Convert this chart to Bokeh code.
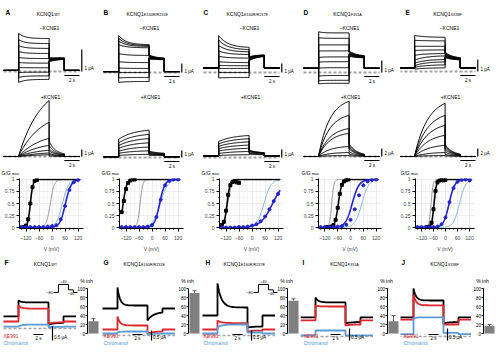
import numpy as np
from bokeh.plotting import figure
from bokeh.layouts import row, column
from bokeh.models import Range1d, Label, FixedTicker
from bokeh.embed import file_html
from bokeh.resources import INLINE

# ======================= DATA =======================
letters_top = ["A", "B", "C", "D", "E"]
letters_bottom = ["F", "G", "H", "I", "J"]
mutant_sub = ["WT", "E160R/R231E", "E160R/R237E", "F351A", "S338F"]

# protocol times (s): start, step on, step off, tail off, end
protocol_top = [0.0, 2.0, 6.0, 8.0, 10.0]
protocol_bottom = [0.0, 3.0, 9.0, 12.0, 14.5]
inset_voltages = [-80, 40, -40, -80]  # mV
inset_labels = ["\u221280", "+40", "\u221240"]

# ---- row 1: KCNQ1 alone (-KCNE1), currents in uA ----
noE_hold = [0.05, 0.1, 0.5, 0.35, 0.3]
noE_tau = [0.8, 1.0, 1.2, 0.5, 1.5]
noE_step_start = [
    [1.73, 1.45, 1.18, 0.91, 0.64, 0.41, 0.18, -0.05, -0.27, -0.50],
    [4.1, 3.8, 3.5, 3.1, 2.1, 1.2, 0.5, 0.0, -0.6, -1.1],
    [4.1, 3.6, 3.0, 2.4, 1.8, 1.2, 0.8, 0.45, 0.0, -0.6],
    [3.4, 2.9, 2.3, 1.8, 1.25, 0.85, 0.35, -0.3, -0.7, -0.95],
    [3.0, 2.6, 2.1, 1.75, 1.35, 0.95, 0.7, 0.5, 0.35, 0.2],
]
noE_step_end = [
    [1.50, 1.27, 1.05, 0.82, 0.59, 0.38, 0.17, -0.03, -0.20, -0.36],
    [3.1, 3.0, 2.9, 2.75, 1.9, 1.1, 0.45, 0.0, -0.55, -1.0],
    [2.8, 2.55, 2.3, 2.0, 1.6, 1.1, 0.75, 0.45, 0.0, -0.55],
    [3.3, 2.85, 2.3, 1.8, 1.3, 0.9, 0.4, -0.25, -0.65, -0.9],
    [2.85, 2.55, 2.1, 1.8, 1.5, 1.3, 1.0, 0.8, 0.55, 0.3],
]
noE_tail_start = [
    [0.62, 0.60, 0.58, 0.56, 0.54, 0.52, 0.50, 0.48, 0.46, 0.44],
    [1.95, 1.9, 1.85, 1.8, 1.75, 1.7, 1.65, 1.6, 1.55, 1.5],
    [1.75, 1.7, 1.65, 1.6, 1.55, 1.5, 1.45, 1.4, 1.35, 1.3],
    [1.8, 1.75, 1.7, 1.65, 1.6, 1.55, 1.5, 1.45, 1.4, 1.35],
    [1.6, 1.55, 1.5, 1.45, 1.4, 1.35, 1.3, 1.25, 1.2, 1.15],
]
noE_tail_end = [
    [0.62, 0.61, 0.60, 0.60, 0.59, 0.58, 0.58, 0.57, 0.56, 0.55],
    [1.6, 1.58, 1.56, 1.54, 1.52, 1.5, 1.48, 1.46, 1.44, 1.42],
    [1.95, 1.93, 1.91, 1.89, 1.87, 1.85, 1.83, 1.81, 1.79, 1.77],
    [1.4, 1.38, 1.36, 1.34, 1.32, 1.3, 1.28, 1.26, 1.24, 1.22],
    [1.15, 1.13, 1.11, 1.09, 1.07, 1.05, 1.03, 1.01, 0.99, 0.97],
]
noE_bar_uA = [1, 1, 1, 1, 1]

# ---- row 2: with KCNE1 (+KCNE1), uA ----
E1_hold = [0.0, 0.1, 0.2, 0.0, 0.0]
E1_tau = [3.0, 2.0, 2.0, 1.5, 1.8]
E1_step_start = [
    [0.1, 0.1, 0.05, 0.05, 0.05, 0.0, 0.0],
    [2.6, 2.1, 1.7, 1.3, 0.9, 0.6, 0.3],
    [2.0, 1.7, 1.4, 1.1, 0.8, 0.5, 0.25],
    [0.3, 0.25, 0.2, 0.15, 0.1, 0.05, 0.0],
    [0.3, 0.25, 0.2, 0.15, 0.1, 0.05, 0.0],
]
E1_step_end = [
    [8.0, 4.9, 2.6, 1.6, 0.9, 0.5, 0.25],
    [3.9, 3.3, 2.7, 2.1, 1.5, 0.95, 0.45],
    [2.75, 2.35, 1.95, 1.55, 1.15, 0.75, 0.35],
    [13.8, 10.3, 7.0, 5.8, 2.5, 1.0, 0.25],
    [13.3, 10.3, 7.8, 5.3, 2.8, 1.0, 0.25],
]
E1_tail_start = [
    [2.2, 1.6, 1.1, 0.8, 0.5, 0.3, 0.1],
    [0.9, 0.8, 0.7, 0.6, 0.5, 0.4, 0.3],
    [0.9, 0.85, 0.8, 0.7, 0.6, 0.5, 0.4],
    [3.2, 2.8, 2.3, 1.9, 1.2, 0.6, 0.2],
    [3.0, 2.6, 2.2, 1.7, 1.1, 0.5, 0.2],
]
E1_tail_end = [
    [0.4, 0.3, 0.25, 0.2, 0.1, 0.05, 0.0],
    [0.6, 0.55, 0.5, 0.45, 0.4, 0.35, 0.3],
    [0.6, 0.58, 0.55, 0.5, 0.45, 0.4, 0.35],
    [0.6, 0.5, 0.4, 0.35, 0.25, 0.15, 0.05],
    [0.6, 0.5, 0.4, 0.35, 0.25, 0.15, 0.05],
]
E1_tail_tau = [0.8, 1.5, 1.5, 1.0, 1.0]
E1_bar_uA = [1, 1, 1, 2, 2]

# ---- row 3: G/Gmax vs V ----
gv_blue_v = [-140, -120, -100, -80, -60, -40, -20, 0, 20, 40, 60, 80, 100, 120]
gv_blue_g = [
    [0.01, 0.01, 0.01, 0.01, 0.01, 0.01, 0.02, 0.03, 0.05, 0.17, 0.45, 0.78, 0.94, 0.99],
    [0.01, 0.01, 0.01, 0.01, 0.01, 0.01, 0.02, 0.05, 0.22, 0.58, 0.88, 0.97, 1.0, 1.0],
    [0.0, 0.0, 0.0, 0.0, 0.01, 0.01, 0.02, 0.04, 0.07, 0.13, 0.23, 0.38, 0.55, 0.70],
    [0.01, 0.01, 0.01, 0.01, 0.02, 0.03, 0.06, 0.16, 0.38, 0.67, 0.88, 0.96, 0.99, 1.0],
    [0.01, 0.01, 0.01, 0.01, 0.01, 0.02, 0.07, 0.21, 0.53, 0.82, 0.95, 0.99, 1.0, 0.98],
]
gv_black_v = [
    [-140, -130, -120, -110, -100, -90, -80, -70],
    [-140, -130, -120, -110, -100, -90, -80],
    [-140, -130, -120, -110, -100, -90, -80, -70, -60],
    [-110, -100, -90, -80, -70, -60, -50, -40, -30, -20, -10],
    [-90, -80, -70, -60, -50, -40, -30, -20, -10, 0],
]
gv_black_g = [
    [0.0, 0.01, 0.04, 0.17, 0.5, 0.84, 0.97, 0.99],
    [0.32, 0.55, 0.8, 0.93, 0.98, 1.0, 1.0],
    [0.05, 0.12, 0.35, 0.68, 0.88, 0.95, 0.96, 0.94, 0.93],
    [0.01, 0.01, 0.02, 0.05, 0.16, 0.41, 0.70, 0.89, 0.96, 0.99, 1.0],
    [0.01, 0.02, 0.1, 0.38, 0.76, 0.94, 0.98, 0.99, 0.98, 0.99],
]
# Boltzmann fits (V1/2 mV, slope mV)
fit_black_vh = [-100, -133, -115, -57, -57]
fit_black_k = [6, 8, 7, 8, 6]
fit_grey_vh = [-8, -55, -112, -88, -72]
fit_grey_k = [9, 6, 9, 5, 5]
fit_blue_vh = [62, 35, 95, 8, 18]
fit_blue_k = [13, 12, 28, 16, 14]
fit_lblue_vh = [48, 38, 55, 53, 70]
fit_lblue_k = [14, 17, 16, 16, 15]
gv_xticks = [-120, -60, 0, 60, 120]
gv_yticks = [0, 0.25, 0.5, 0.75, 1]

# ---- row 4: inhibition (control / XE991 / Chromanol), uA ----
# [holding, step start, step end, tail start, tail end]
inh_ctrl = [[0.43, 1.0, 0.93, 0.14, 0.2], [1.35, 2.4, 1.5, 0.75, 1.15],
            [1.0, 2.6, 1.4, 0.4, 0.45], [0.8, 1.62, 1.42, 0.55, 0.6],
            [0.8, 2.0, 1.5, 0.55, 0.6]]
inh_xe991 = [[0.25, 0.82, 0.71, 0.18, 0.22], [0.3, 0.95, 0.5, 0.1, 0.2],
             [0.3, 0.75, 0.62, 0.2, 0.25], [0.67, 1.3, 1.25, 0.46, 0.5],
             [0.7, 1.75, 1.3, 0.5, 0.5]]
inh_chrom = [[0.07, 0.07, 0.14, 0.05, 0.06], [0.1, 0.15, 0.2, 0.05, 0.1],
             [0.1, 0.4, 0.55, 0.15, 0.15], [0.05, 0.25, 0.25, 0.05, 0.05],
             [0.1, 0.75, 0.8, 0.15, 0.15]]
inh_tau = [0.6, 0.5, 0.8, 0.6, 0.5]
pct_inh = [27, 90, 73, 27, 17]
pct_err = [6, 5, 4, 13, 3]
pct_ticks = [0, 20, 40, 60, 80, 100]
inh_bar_uA = 0.5

# ======================= STYLE / LAYOUT =======================
FONT = "Liberation Sans"
BLUE = "#2424cc"
LBLUE = "#7aaee0"
GREY = "#8a8a8a"
RED = "#e0262e"
CHROM = "#5b9bd5"
DASH = "#a3a3a3"
BARC = "#7f7f7f"

H1, H2, H3, H4 = 88, 88, 79, 97
top_px_s = 7.6
top_x0 = [3, 3, 3, 3, -1]
top_scale = [22, 9, 9, 12, 12]
top_base = [71, 72, 72, 72, 71]
mid_scale = [7, 7, 8, 4, 4]
mid_base = [68, 69, 69, 68, 68]
gv_widths = [100, 100, 100, 97, 103]
gv_left = [19, 19, 19, 17, 13]
gv_label_x = [1, 1, 1, 1, 0]
bot_px_s = 5.0
bot_x0 = [3, 2, 2, 0, -2]
bot_scale = [28, 20, 20, 24, 24]
bot_base = [73, 80, 80, 81, 81]
bar_axis_x = [87, 88, 87, 87, 83]
bar_top_px, bar_bot_px = 33, 78
letter_x_top = [5, 3, 3, 3, 5]
letter_x_bot = [4, 3, 5, 2, 1]


def put(p, xc, yc, text, size="5px", color="black", bold=False, align="left"):
    # xc, yc: px from the top-left of a borderless figure
    p.add_layout(Label(x=xc, y=p.height - yc, x_units="screen", y_units="screen",
                       text=text, text_font=FONT, text_font_size=size, text_color=color,
                       text_font_style="bold" if bold else "normal",
                       text_align=align, text_baseline="middle"))


def title(p, cx, yc, sub, size=5.0):
    wmain = 3.45 * size
    wsub = 0.6 * 0.75 * size * len(sub)
    x0 = cx - (wmain + wsub) / 2
    put(p, x0, yc, "KCNQ1", f"{size}px")
    put(p, x0 + wmain + 0.3, yc + 1.5, sub, f"{0.75 * size:.2f}px")


def relax(t, t0, t1, y0, y1, tau):
    ed = np.exp(-(t1 - t0) / tau)
    return y1 + (y0 - y1) * (np.exp(-(t - t0) / tau) - ed) / (1 - ed)


def sweep(times, hold, s0, s1, tau, tl0, tl1, ttau, n=40):
    t0, on, off, toff, end = times
    ts = np.linspace(on, off, n)
    tt = np.linspace(off, toff, n)
    xs = [t0, on] + list(ts) + list(tt) + [toff, end]
    ys = ([hold, hold] + list(relax(ts, on, off, s0, s1, tau))
          + list(relax(tt, off, toff, tl0, tl1, ttau)) + [hold, hold])
    return xs, ys


def trace_fig(w, h, px_s, x0, scale, base):
    p = figure(width=w, height=h, x_range=Range1d(-x0 / px_s, (w - x0) / px_s),
               y_range=Range1d(-(h - base) / scale, base / scale),
               toolbar_location=None, output_backend="svg", min_border=0,
               x_axis_location=None, y_axis_location=None)
    p.xgrid.visible = False
    p.ygrid.visible = False
    p.outline_line_color = None
    return p


def data_label(p, x, y, text, size="4.5px", align="left", baseline="middle", color="black", **kw):
    p.add_layout(Label(x=x, y=y, text=text, text_font=FONT, text_font_size=size,
                       text_align=align, text_baseline=baseline, text_color=color, **kw))


# ---------- rows 1 & 2 ----------
row1, row2 = [], []
for i in range(5):
    T = protocol_top
    s = top_scale[i]
    p = trace_fig(100, H1, top_px_s, top_x0[i], s, top_base[i])
    p.line([T[0], T[4]], [0, 0], line_color=DASH, line_width=2, line_dash="3 2")
    xs, ys = [], []
    for j in range(len(noE_step_start[i])):
        x, y = sweep(T, noE_hold[i], noE_step_start[i][j], noE_step_end[i][j], noE_tau[i],
                     noE_tail_start[i][j], noE_tail_end[i][j], 1.0)
        xs.append(x)
        ys.append(y)
    p.multi_line(xs, ys, line_color="black", line_width=1.0)
    bx = T[4] + 0.3
    p.line([bx, bx], [0, noE_bar_uA[i]], line_color="black", line_width=1.2)
    data_label(p, bx + 0.35, 0.15 * noE_bar_uA[i], f"{noE_bar_uA[i]} \u03bcA")
    yb = -4.0 / s
    p.line([T[3], T[4]], [yb, yb], line_color="black", line_width=1.2)
    data_label(p, (T[3] + T[4]) / 2, yb - 4.5 / s, "2 s", align="center")
    put(p, letter_x_top[i], 12, letters_top[i], "6.5px", bold=True)
    title(p, 47, 13, mutant_sub[i])
    put(p, 49, 27, "\u2212KCNE1", "5px", align="center")
    row1.append(p)

    s = mid_scale[i]
    p = trace_fig(100, H2, top_px_s, top_x0[i], s, mid_base[i])
    p.line([T[0], T[4]], [0, 0], line_color=DASH, line_width=2, line_dash="3 2")
    xs, ys = [], []
    for j in range(len(E1_step_start[i])):
        x, y = sweep(T, E1_hold[i], E1_step_start[i][j], E1_step_end[i][j], E1_tau[i],
                     E1_tail_start[i][j], E1_tail_end[i][j], E1_tail_tau[i])
        xs.append(x)
        ys.append(y)
    p.multi_line(xs, ys, line_color="black", line_width=1.0)
    p.line([bx, bx], [0, E1_bar_uA[i]], line_color="black", line_width=1.2)
    data_label(p, bx + 0.35, 0.15 * E1_bar_uA[i] + 1.5 / s, f"{E1_bar_uA[i]} \u03bcA")
    yb = -4.0 / s
    p.line([T[3], T[4]], [yb, yb], line_color="black", line_width=1.2)
    data_label(p, (T[3] + T[4]) / 2, yb - 4.5 / s, "2 s", align="center")
    put(p, 50, 8, "+KCNE1", "5px", align="center")
    # G/Gmax label of the panel below
    gx = gv_label_x[i]
    put(p, gx, 84.5, "G/G", "5px")
    put(p, gx + 10.2, 85.5, "max", "3.8px")
    row2.append(p)

# ---------- row 3: G/Gmax ----------
row3 = []
vfit = np.linspace(-140, 130, 271)


def boltz(v, vh, k):
    return 1.0 / (1.0 + np.exp((vh - v) / k))


for i in range(5):
    w = gv_widths[i]
    left = gv_left[i]
    p = figure(width=w, height=H3, x_range=Range1d(-150, 145), y_range=Range1d(-0.02, 1.02),
               toolbar_location=None, output_backend="svg",
               min_border_left=left, min_border_right=w - left - 64,
               min_border_top=2, min_border_bottom=27)
    p.outline_line_color = None
    p.xaxis.ticker = FixedTicker(ticks=gv_xticks, minor_ticks=list(range(-140, 140, 20)))
    p.yaxis.ticker = FixedTicker(ticks=gv_yticks, minor_ticks=[0.125, 0.375, 0.625, 0.875])
    p.yaxis.major_label_overrides = {0: "0", 0.25: "0.25", 0.5: "0.5", 0.75: "0.75", 1: "1"}
    for ax in (p.xaxis, p.yaxis):
        ax.axis_line_color = "black"
        ax.axis_line_width = 1
        ax.major_tick_out = 3
        ax.major_tick_in = 0
        ax.minor_tick_out = 1
        ax.minor_tick_in = 0
        ax.major_label_text_font = FONT
        ax.major_label_text_font_size = "5px"
        ax.major_label_standoff = 2
    p.xaxis.major_label_standoff = 4
    p.xaxis.axis_label = "V (mV)"
    p.xaxis.axis_label_text_font = FONT
    p.xaxis.axis_label_text_font_size = "5px"
    p.xaxis.axis_label_text_font_style = "normal"
    p.xaxis.axis_label_standoff = 3
    for g in (p.xgrid, p.ygrid):
        g.grid_line_color = "#e4e4e4"
        g.grid_line_width = 0.6
        g.minor_grid_line_color = "#eeeeee"
        g.minor_grid_line_width = 0.5
    p.line(vfit, boltz(vfit, fit_grey_vh[i], fit_grey_k[i]), line_color=GREY, line_width=0.9)
    p.line(vfit, boltz(vfit, fit_lblue_vh[i], fit_lblue_k[i]), line_color=LBLUE, line_width=1.0)
    p.line(vfit, boltz(vfit, fit_black_vh[i], fit_black_k[i]), line_color="black", line_width=1.6)
    p.line(vfit, boltz(vfit, fit_blue_vh[i], fit_blue_k[i]), line_color=BLUE, line_width=1.6)
    p.scatter(gv_black_v[i], gv_black_g[i], marker="square", size=3, color="black")
    p.scatter(gv_blue_v, gv_blue_g[i], marker="circle", size=3, color=BLUE)
    row3.append(p)

# ---------- row 4: traces + % inhibition bar, one borderless figure each ----------
row4 = []
pct_lo = -(H4 - bar_bot_px) * 100.0 / (bar_bot_px - bar_top_px)
pct_hi = 100.0 + bar_top_px * 100.0 / (bar_bot_px - bar_top_px)
for i in range(5):
    T = protocol_bottom
    s = bot_scale[i]
    p = trace_fig(100, H4, bot_px_s, bot_x0[i], s, bot_base[i])
    p.extra_x_ranges = {"bar": Range1d(0, 100)}
    p.extra_y_ranges = {"pct": Range1d(pct_lo, pct_hi)}
    p.line([T[0], T[4]], [0, 0], line_color=DASH, line_width=1.6, line_dash="3 2")
    for data, col in ((inh_ctrl, "black"), (inh_xe991, RED), (inh_chrom, CHROM)):
        hh, a0, a1, t0, t1 = data[i]
        x, y = sweep(T, hh, a0, a1, inh_tau[i], t0, t1, 1.2)
        p.line(x, y, line_color=col, line_width=1.8)
    # scale bars
    ysb = (bot_base[i] - 79.0) / s
    p.line([6.0, 8.0], [ysb, ysb], line_color="black", line_width=1.2)
    data_label(p, 7.0, ysb - 4.0 / s, "2 s", align="center")
    vx = 9.8
    yv0 = (bot_base[i] - 85.0) / s
    p.line([vx, vx], [yv0, yv0 + inh_bar_uA], line_color="black", line_width=1.2)
    data_label(p, vx + 0.3, yv0 + 3.5 / s, f"{inh_bar_uA} \u03bcA")
    # labels
    put(p, letter_x_bot[i], 7, letters_bottom[i], "6.5px", bold=True)
    title(p, 44, 8, mutant_sub[i])
    put(p, 3, 80, "XE991", "5px", color=RED)
    put(p, 3, 87, "Chromanol", "5px", color=CHROM)
    # protocol inset (F and H)
    if i in (0, 2):
        sc = 24.0 / T[4]
        ix = [53 + tk * sc for tk in T]
        vmin, vmax = min(inset_voltages), max(inset_voltages)
        iy = [37 - (v - vmin) / (vmax - vmin) * 8 for v in inset_voltages]
        sx, sy = [], []
        for k in range(4):
            sx += [ix[k], ix[k + 1]]
            sy += [iy[k], iy[k]]
        tx = [(q - bot_x0[i]) / bot_px_s for q in sx]
        ty = [(bot_base[i] - q) / s for q in sy]
        p.line(tx, ty, line_color="black", line_width=1.0)
        put(p, ix[0] - 0.5, iy[0], inset_labels[0], "4px", align="right")
        put(p, (ix[1] + ix[2]) / 2, iy[1] - 3.5, inset_labels[1], "4px", align="center")
        put(p, (ix[2] + ix[3]) / 2, iy[2] + 3.5, inset_labels[2], "4px", align="center")
    # % inhibition bar with hand-made axis on the extra ranges
    ax_x = bar_axis_x[i]
    bc = ax_x + 6
    p.vbar(x=[bc], top=[pct_inh[i]], bottom=[0], width=10, fill_color=BARC, line_color=None,
           x_range_name="bar", y_range_name="pct")
    et = pct_inh[i] + pct_err[i]
    p.segment(x0=[bc], y0=[pct_inh[i]], x1=[bc], y1=[et], line_color="#606060", line_width=1,
              x_range_name="bar", y_range_name="pct")
    p.segment(x0=[bc - 2], y0=[et], x1=[bc + 2], y1=[et], line_color="#606060", line_width=1,
              x_range_name="bar", y_range_name="pct")
    p.segment(x0=[ax_x], y0=[0], x1=[ax_x], y1=[100], line_color="black", line_width=1,
              x_range_name="bar", y_range_name="pct")
    p.segment(x0=[ax_x - 2] * len(pct_ticks), y0=pct_ticks, x1=[ax_x] * len(pct_ticks),
              y1=pct_ticks, line_color="black", line_width=1,
              x_range_name="bar", y_range_name="pct")
    for tk in pct_ticks:
        data_label(p, ax_x - 2.5, tk, str(tk), size="4.5px", align="right",
                   x_range_name="bar", y_range_name="pct")
    data_label(p, ax_x - 1, 100 + 5 * 100.0 / (bar_bot_px - bar_top_px) + 6, "% inh",
               size="5px", align="center", x_range_name="bar", y_range_name="pct")
    row4.append(p)

layout = column(row(*row1), row(*row2), row(*row3), row(*row4))
open("out.html", "w").write(file_html(layout, INLINE))
